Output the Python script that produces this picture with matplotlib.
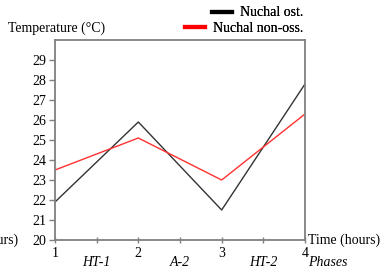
import matplotlib.pyplot as plt
from matplotlib.lines import Line2D

plt.rcParams['font.family'] = ['Liberation Serif', 'DejaVu Serif']
plt.rcParams['font.size'] = 10

time_h = [1, 2, 3, 4]
nuchal_ost = [21.9, 25.9, 21.5, 27.8]
nuchal_non_oss = [23.5, 25.1, 23.0, 26.3]
phase_pos = [1.5, 2.5, 3.5]
phase_names = ['HT-1', 'A-2', 'HT-2']
y_ticks = list(range(20, 30))

W, H = 383, 271
fig = plt.figure(figsize=(W / 100, H / 100), dpi=100)
ax = fig.add_axes([55 / W, 1 - 240 / H, 250 / W, 200 / H])

ax.plot(time_h, nuchal_ost, color='#333333', lw=1.0)
ax.plot(time_h, nuchal_non_oss, color='#ff3030', lw=1.0)

ax.set_xlim(1, 4)
ax.set_ylim(20, 30)
ax.set_yticks(y_ticks)
ax.set_xticks(time_h)
ax.set_xticks(phase_pos, minor=True)
for s in ax.spines.values():
    s.set_color('#808080')
    s.set_linewidth(1.3)
ax.tick_params(axis='y', direction='out', length=4, width=1, color='#808080', pad=2)
ax.tick_params(axis='x', which='both', direction='inout', length=5, width=1,
               color='#808080', pad=2.5)

for p, name in zip(phase_pos, phase_names):
    ax.text(p, -0.115, name, transform=ax.get_xaxis_transform(),
            ha='center', va='center', style='italic')

fig.text(308 / W, 1 - 263 / H, 'Phases', ha='left', va='center', style='italic')
fig.text(308 / W, 1 - 240 / H, 'Time (hours)', ha='left', va='center')
fig.text(18 / W, 1 - 240 / H, 'Time (hours)', ha='right', va='center')
fig.text(8 / W, 1 - 28 / H, 'Temperature (°C)', ha='left', va='center')

entries = [('Nuchal ost.', '#000000', 13), ('Nuchal non-oss.', '#ff0000', 28)]
for label, col, ypx in entries:
    leg = fig.legend([Line2D([], [], color=col, lw=3)], [label],
                     loc='center right', bbox_to_anchor=(303 / W, 1 - ypx / H),
                     frameon=False, borderpad=0, borderaxespad=0,
                     handlelength=1.45, handletextpad=0.55)
    fig.add_artist(leg)

fig.savefig('out.png', dpi=100)
